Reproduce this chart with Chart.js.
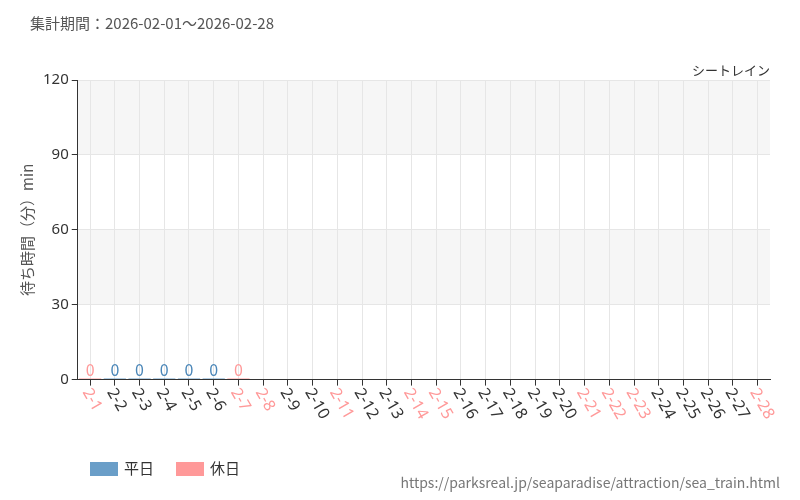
<!DOCTYPE html><html><head><meta charset="utf-8"><script src="https://cdn.jsdelivr.net/npm/chart.js@4"></script>
<style>body{margin:0;background:#fff;font-family:"Noto Sans CJK JP","Noto Sans",sans-serif}#w{position:relative;width:800px;height:500px}
.t{position:absolute;color:#555;font-size:15px}.b{display:inline-block;width:28px;height:14px;vertical-align:-2px;margin-right:6px}</style></head><body><div id="w">
<div class="t" style="left:30px;top:12px">集計期間：2026-02-01～2026-02-28</div>
<div class="t" style="right:30px;top:60px;font-size:13px;color:#333">シートレイン</div>
<div class="t" style="left:90px;top:457px;color:#333;font-size:15px"><span class="b" style="background:#6a9ec8"></span>平日<span class="b" style="background:#ff9999;margin-left:22px"></span>休日</div>
<div class="t" style="right:20px;top:472px;font-size:14px;color:#777">https://parksreal.jp/seaparadise/attraction/sea_train.html</div>
<canvas id="c" width="800" height="500"></canvas></div>
<script>
const labels=["2-1","2-2","2-3","2-4","2-5","2-6","2-7","2-8","2-9","2-10","2-11","2-12","2-13","2-14","2-15","2-16","2-17","2-18","2-19","2-20","2-21","2-22","2-23","2-24","2-25","2-26","2-27","2-28"];
const holidays=["2-1","2-7","2-8","2-11","2-14","2-15","2-21","2-22","2-23","2-28"];
const weekdayVals=[null,0,0,0,0,0,null,null,null,null,null,null,null,null,null,null,null,null,null,null,null,null,null,null,null,null,null,null];
const holidayVals=[0,null,null,null,null,null,0,null,null,null,null,null,null,null,null,null,null,null,null,null,null,null,null,null,null,null,null,null];
const yTicks=[0,30,60,90,120];
const BLUE="#6a9ec8",PINK="#ff9999";
const lbl={id:'lbl',afterDatasetsDraw(ch){const x=ch.ctx;x.save();x.font='16px "Noto Sans CJK JP"';x.textAlign='center';x.textBaseline='bottom';
ch.data.datasets.forEach((d,i)=>{ch.getDatasetMeta(i).data.forEach((e,j)=>{if(d.data[j]==null)return;x.fillStyle=i?PINK:"#4a86b8";x.fillText(String(d.data[j]),e.x,e.y-1);});});
const sx=ch.scales.x,b=ch.chartArea.bottom;x.font='16px "Noto Sans"';x.textAlign='left';x.textBaseline='middle';
labels.forEach((l,j)=>{const px=sx.getPixelForValue(j);x.save();x.translate(px-4,b+10);x.rotate(Math.PI/3);x.fillStyle=holidays.includes(l)?PINK:'#333';x.fillText(l,0,0);x.restore();});
x.restore();}};
const band={id:'band',beforeDraw(ch){const a=ch.chartArea,y=ch.scales.y,x=ch.ctx;x.save();x.fillStyle='#f6f6f6';
x.fillRect(a.left,y.getPixelForValue(120),a.right-a.left,y.getPixelForValue(90)-y.getPixelForValue(120));
x.fillRect(a.left,y.getPixelForValue(60),a.right-a.left,y.getPixelForValue(30)-y.getPixelForValue(60));x.restore();}};
new Chart(document.getElementById('c'),{type:'bar',data:{labels,datasets:[
{label:'平日',data:weekdayVals,backgroundColor:BLUE,borderColor:BLUE,minBarLength:1,barPercentage:0.9,categoryPercentage:1},
{label:'休日',data:holidayVals,backgroundColor:PINK,borderColor:PINK,minBarLength:1,barPercentage:0.9,categoryPercentage:1}]},
options:{responsive:false,animation:false,grouped:false,layout:{padding:{left:14,right:30,top:80,bottom:94}},
plugins:{legend:{display:false},tooltip:{enabled:false}},
scales:{x:{grid:{color:'#e6e6e6',offset:false,tickLength:6,tickColor:'#333'},border:{color:'#333'},
ticks:{autoSkip:false,maxRotation:0,callback:()=>''}},
y:{min:0,max:120,afterBuildTicks:s=>{s.ticks=yTicks.map(v=>({value:v}));},grid:{color:'#e6e6e6',tickLength:6,tickColor:'#333'},border:{color:'#333'},
ticks:{font:{size:15,family:'"Noto Sans"'},color:'#333'},title:{display:true,text:'待ち時間（分）min',color:'#555',font:{size:15,family:'"Noto Sans CJK JP"'}}}}},plugins:[band,lbl]});
</script></body></html>
